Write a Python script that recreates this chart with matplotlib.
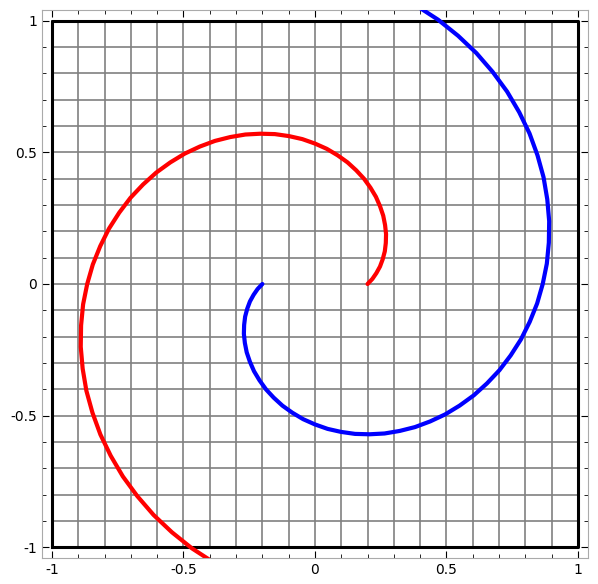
import numpy as np
import matplotlib
matplotlib.use('Agg')
from matplotlib import pyplot as plt

# spiral: angle (deg) -> radius, every 5 degrees
angle_deg = list(range(0, 255, 5))
radius = [0.200, 0.219, 0.237, 0.256, 0.274, 0.293, 0.311, 0.330, 0.348, 0.367,
          0.385, 0.404, 0.422, 0.441, 0.459, 0.478, 0.496, 0.515, 0.533, 0.552,
          0.570, 0.589, 0.607, 0.626, 0.644, 0.663, 0.681, 0.700, 0.718, 0.737,
          0.755, 0.774, 0.792, 0.811, 0.829, 0.848, 0.866, 0.885, 0.903, 0.922,
          0.940, 0.959, 0.977, 0.996, 1.014, 1.033, 1.051, 1.070, 1.088, 1.107,
          1.125]
red_offset = 0
blue_offset = 180

fig = plt.figure(figsize=(5.98, 5.84), dpi=100)
ax = fig.add_axes([0.0702, 0.0445, 0.913, 0.9384])

for g in np.arange(-1, 1.01, 0.1):
    ax.plot([g, g], [-1, 1], color='gray', lw=1.2, zorder=1)
    ax.plot([-1, 1], [g, g], color='gray', lw=1.2, zorder=1)
ax.plot([-1, 1, 1, -1, -1], [-1, -1, 1, 1, -1], color='black', lw=2.2, zorder=2)

r = np.array(radius)
for off, col in [(red_offset, 'red'), (blue_offset, 'blue')]:
    t = np.radians(np.array(angle_deg) + off)
    ax.plot(r * np.cos(t), r * np.sin(t), color=col, lw=3, zorder=3,
            solid_capstyle='round', solid_joinstyle='round')

ax.set_xlim(-1.038, 1.038)
ax.set_ylim(-1.04, 1.04)
ticks = [-1, -0.5, 0, 0.5, 1]
labels = ['-1', '-0.5', '0', '0.5', '1']
ax.set_xticks(ticks, labels)
ax.set_yticks(ticks, labels)
ax.set_xticks(np.arange(-1, 1.01, 0.1), minor=True)
ax.set_yticks(np.arange(-1, 1.01, 0.1), minor=True)
ax.tick_params(which='both', direction='in', top=True, right=True)
ax.tick_params(which='major', length=5)
ax.tick_params(which='minor', length=3)
for s in ax.spines.values():
    s.set_color('#aaaaaa')
    s.set_linewidth(0.8)

fig.savefig('out.png')
